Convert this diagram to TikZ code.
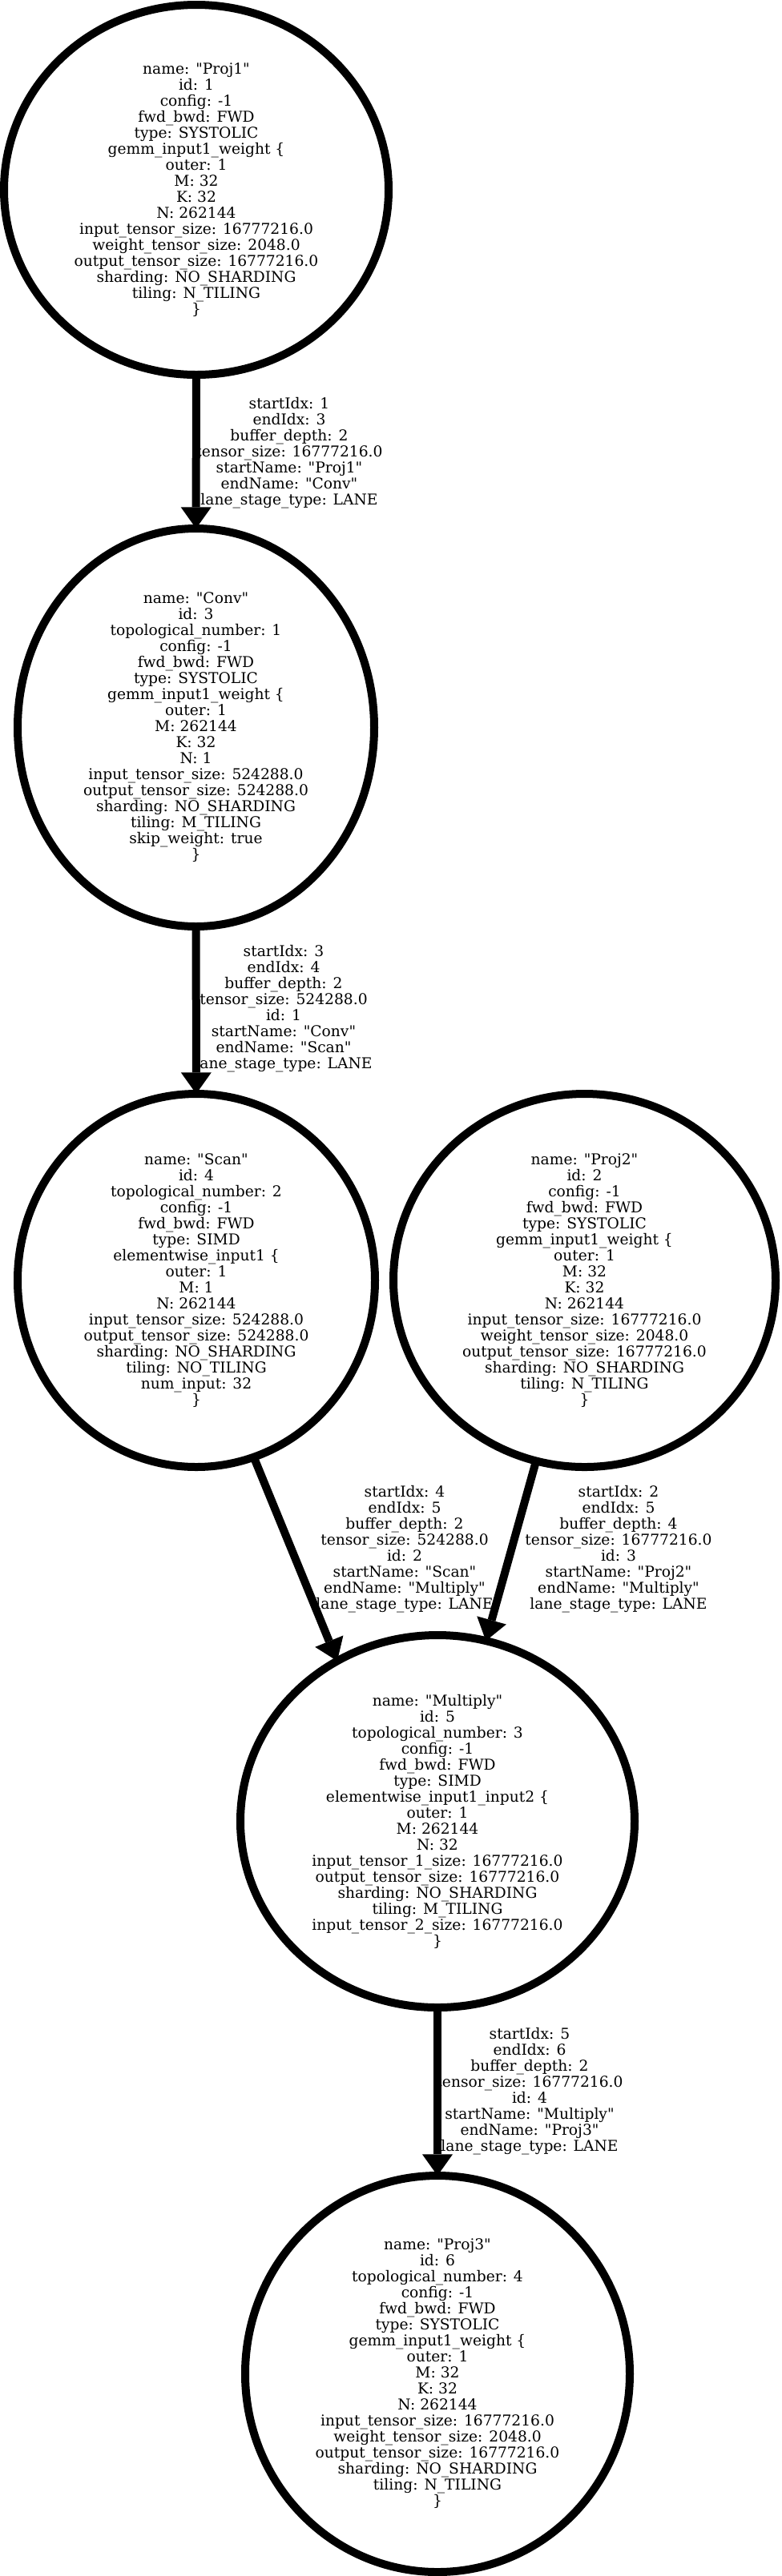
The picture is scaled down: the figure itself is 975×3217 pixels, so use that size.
\documentclass[tikz,border=0pt]{standalone}
\usepackage{fontspec}
\setmainfont{DejaVu Serif}[Ligatures=TeXOff]
\usepackage{tikz}
\usetikzlibrary{arrows.meta,shapes.geometric}

\begin{document}
\begin{tikzpicture}[x=0.75pt,y=-0.75pt,>={Triangle[length=20pt,width=28.5pt,line width=0pt]},every node/.style={font=\fontsize{14}{15}\selectfont}]
\tikzset{op/.style={draw,ellipse,line width=7.5pt,inner sep=0pt,outer sep=0pt,align=center},lbl/.style={align=center,inner sep=0pt},flow/.style={->,line width=7.5pt}}
\useasboundingbox (0,0) rectangle (975,3217);
\node[op,minimum width=360pt,minimum height=346.5pt] (proj1) at (245,237) {name: "Proj1"\\id: 1\\config: -1\\fwd\_bwd: FWD\\type: SYSTOLIC\\gemm\_input1\_weight \{\\outer: 1\\M: 32\\K: 32\\N: 262144\\input\_tensor\_size: 16777216.0\\weight\_tensor\_size: 2048.0\\output\_tensor\_size: 16777216.0\\sharding: NO\_SHARDING\\tiling: N\_TILING\\\}};
\node[op,minimum width=333.75pt,minimum height=372.75pt] (conv) at (244.5,908.5) {name: "Conv"\\id: 3\\topological\_number: 1\\config: -1\\fwd\_bwd: FWD\\type: SYSTOLIC\\gemm\_input1\_weight \{\\outer: 1\\M: 262144\\K: 32\\N: 1\\input\_tensor\_size: 524288.0\\output\_tensor\_size: 524288.0\\sharding: NO\_SHARDING\\tiling: M\_TILING\\skip\_weight: true\\\}};
\node[op,minimum width=334.5pt,minimum height=349.5pt] (scan) at (245,1599) {name: "Scan"\\id: 4\\topological\_number: 2\\config: -1\\fwd\_bwd: FWD\\type: SIMD\\elementwise\_input1 \{\\outer: 1\\M: 1\\N: 262144\\input\_tensor\_size: 524288.0\\output\_tensor\_size: 524288.0\\sharding: NO\_SHARDING\\tiling: NO\_TILING\\num\_input: 32\\\}};
\node[op,minimum width=357.75pt,minimum height=349.5pt] (proj2) at (729.5,1599) {name: "Proj2"\\id: 2\\config: -1\\fwd\_bwd: FWD\\type: SYSTOLIC\\gemm\_input1\_weight \{\\outer: 1\\M: 32\\K: 32\\N: 262144\\input\_tensor\_size: 16777216.0\\weight\_tensor\_size: 2048.0\\output\_tensor\_size: 16777216.0\\sharding: NO\_SHARDING\\tiling: N\_TILING\\\}};
\node[op,minimum width=369pt,minimum height=348.75pt] (mult) at (546,2274.5) {name: "Multiply"\\id: 5\\topological\_number: 3\\config: -1\\fwd\_bwd: FWD\\type: SIMD\\elementwise\_input1\_input2 \{\\outer: 1\\M: 262144\\N: 32\\input\_tensor\_1\_size: 16777216.0\\output\_tensor\_size: 16777216.0\\sharding: NO\_SHARDING\\tiling: M\_TILING\\input\_tensor\_2\_size: 16777216.0\\\}};
\node[op,minimum width=360pt,minimum height=371.25pt] (proj3) at (546,2964.5) {name: "Proj3"\\id: 6\\topological\_number: 4\\config: -1\\fwd\_bwd: FWD\\type: SYSTOLIC\\gemm\_input1\_weight \{\\outer: 1\\M: 32\\K: 32\\N: 262144\\input\_tensor\_size: 16777216.0\\weight\_tensor\_size: 2048.0\\output\_tensor\_size: 16777216.0\\sharding: NO\_SHARDING\\tiling: N\_TILING\\\}};
\node[lbl] (l1) at (361,566) {startIdx: 1\\endIdx: 3\\buffer\_depth: 2\\tensor\_size: 16777216.0\\startName: "Proj1"\\endName: "Conv"\\lane\_stage\_type: LANE};
\node[lbl] (l2) at (354,1260) {startIdx: 3\\endIdx: 4\\buffer\_depth: 2\\tensor\_size: 524288.0\\id: 1\\startName: "Conv"\\endName: "Scan"\\lane\_stage\_type: LANE};
\node[lbl] (l3) at (505,1935) {startIdx: 4\\endIdx: 5\\buffer\_depth: 2\\tensor\_size: 524288.0\\id: 2\\startName: "Scan"\\endName: "Multiply"\\lane\_stage\_type: LANE};
\node[lbl] (l4) at (772,1935) {startIdx: 2\\endIdx: 5\\buffer\_depth: 4\\tensor\_size: 16777216.0\\id: 3\\startName: "Proj2"\\endName: "Multiply"\\lane\_stage\_type: LANE};
\node[lbl] (l5) at (661,2612) {startIdx: 5\\endIdx: 6\\buffer\_depth: 2\\tensor\_size: 16777216.0\\id: 4\\startName: "Multiply"\\endName: "Proj3"\\lane\_stage\_type: LANE};
\draw[flow] (proj1)--(conv);
\draw[flow] (conv)--(scan);
\draw[flow] (scan.-72)--(mult.122);
\draw[flow] (proj2.-105)--(mult.75);
\draw[flow] (mult)--(proj3);
\end{tikzpicture}
\end{document}
